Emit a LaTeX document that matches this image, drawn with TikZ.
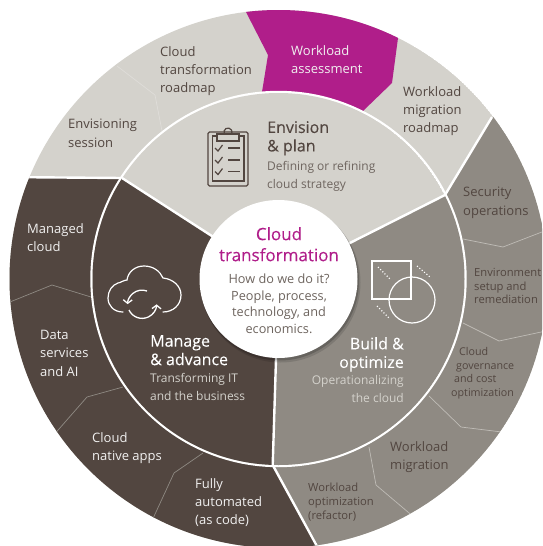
\documentclass[tikz,border=0pt]{standalone}
\usepackage{fontspec}
\setmainfont{Open Sans}
\newfontfamily\medfont[FakeBold=0.12]{Open Sans}
\usetikzlibrary{arrows.meta}
\definecolor{lightc}{HTML}{D4D2CC}
\definecolor{magc}{HTML}{B01E8A}
\definecolor{greyc}{HTML}{8F8A83}
\definecolor{darkc}{HTML}{524640}
\definecolor{bodyc}{HTML}{6E655F}
\tikzset{
 lbl/.style={anchor=north west,inner sep=0pt,align=left,font=\fontsize{13}{18.4}\selectfont},
 onlight/.style={lbl,text=darkc},
 ondark/.style={lbl,text=white!92!darkc},
 small/.style={lbl,text=darkc,font=\fontsize{11.2}{13.7}\selectfont},
 head/.style={lbl,font=\medfont\fontsize{16}{18.5}\selectfont},
 sub/.style={lbl,font=\fontsize{12}{18}\selectfont},
 seam/.style={draw=white,line width=2.4pt},
 thinl/.style={line width=.7pt},
 icon/.style={line width=1.2pt},
 cyc/.style={white,line width=1.3pt,-{Straight Barb[length=3.5pt,width=9pt]}},
}
\begin{document}
\begin{tikzpicture}[x=1pt,y=-1pt]
\useasboundingbox (0,0) rectangle (542,546);
\fill[white] (0,0) rectangle (542,546);
\coordinate (C) at (278.5,279);
\coordinate (A) at (122,178);
\coordinate (B) at (445,195);
\coordinate (D) at (272.7,465);
\begin{scope}
\clip (0,0) rectangle (542,546);
\begin{scope}
\clip (C) circle (269);
\fill[lightc] (C) circle (269);
\fill[greyc] (B) -- (492,117) -- (620,117) -- (620,620) -- (360,620) -- (D) -- cycle;
\fill[darkc] (A) -- (-10,177) -- (-10,620) -- (360,620) -- (D) -- cycle;
\fill[magc] (246,12) -- (240,0) -- (400,0) -- (398,38) -- (392,83) -- (363,111) -- (300,110) -- (262,92) -- (268,55) -- cycle;
\draw[lightc!75!white,thinl] (117,66) -- (155,95) -- (162,131);
\draw[lightc!70!greyc,thinl] (463,239) -- (503,247) -- (560,225);
\draw[lightc!70!greyc,thinl] (463,323) -- (499,341) -- (560,328);
\draw[lightc!70!greyc,thinl] (429,396) -- (461,427) -- (510,433);
\draw[lightc!70!greyc,thinl] (369,447) -- (376,485) -- (415,518);
\draw[greyc,thinl] (5,304) -- (52,285) -- (91,297);
\draw[greyc,thinl] (52,437) -- (87,397) -- (123,387);
\draw[greyc,thinl] (150,525) -- (174,473) -- (203,453);
\draw[seam] (B) -- (492,117);
\draw[seam] (A) -- (0,177);
\draw[seam] (D) -- (330,570);
\end{scope}
% inner disc
\fill[white] (C) circle (188.2);
\begin{scope}
\clip (C) circle (186);
\fill[lightc] (C) circle (186);
\fill[greyc] (C) -- (B) -- (500,100) -- (560,560) -- (D) -- cycle;
\fill[darkc] (C) -- (A) -- (50,100) -- (40,560) -- (D) -- cycle;
\end{scope}
\draw[seam] (A) -- (C);
\draw[seam] (B) -- (C);
\draw[seam] (D) -- (C);
\fill[black,opacity=.12] (280.5,282.5) circle (80);
\fill[black,opacity=.18] (279.5,281) circle (79.5);
\fill[white] (C) circle (79);
\end{scope}
% clipboard
\draw[darkc,icon,rounded corners=1.5pt] (208,132) rectangle (248,186);
\draw[darkc,icon] (212.5,136) rectangle (244,181);
\draw[darkc,icon] (224.5,134) arc[start angle=210,end angle=-30,radius=4pt];
\draw[darkc,icon,fill=lightc] (217,134) rectangle (239,141);
\foreach \y in {148,160,171.5}{
 \draw[darkc,icon] (215,\y) -- (218,\y+3) -- (222.5,\y-3);
 \draw[darkc,icon] (228,\y) -- (240,\y);
}
% square + circle
\draw[white,line width=1.2pt] (372,261) rectangle (411,299);
\draw[white,line width=1.2pt] (412,300) circle (23);
\draw[white,line width=1.1pt,dotted] (378,267) -- (391,280);
\draw[white,line width=1.1pt,dotted] (417,266) -- (430,277);
\draw[white,line width=1.1pt,dotted] (377,306) -- (389,318);
% cloud
\draw[white,icon,line cap=round] (123,312) .. controls (114,312) and (108,306) .. (108,298) .. controls (108,291) and (112,285) .. (118,283) .. controls (120,283) and (124,280) .. (127,280) .. controls (128,272) and (135,266) .. (144,266) .. controls (153,266) and (160,271) .. (163,278) .. controls (173,279) and (181,286) .. (181,295) .. controls (181,305) and (173,312) .. (163,312);
\draw[cyc] (147,291) arc[start angle=70,end angle=178,radius=14.5pt];
\draw[cyc] (129,310) arc[start angle=205,end angle=358,radius=14.5pt];
% texts
\node[onlight] (t1) at (160,46) {Cloud\\transformation\\roadmap};
\node[ondark] (t2) at (291,45) {Workload\\assessment};
\node[onlight] (t3) at (403,86) {Workload\\migration\\roadmap};
\node[onlight] (t4) at (68,119) {Envisioning\\session};
\node[head,text=darkc] (t5) at (267,121) {Envision\\\& plan};
\node[sub,text=bodyc] (t6) at (267,161) {Defining or refining\\cloud strategy};
\node[onlight] (t7) at (463,187) {Security\\operations};
\node[small] (t8) at (474,268) {Environment\\setup and\\remediation};
\node[small,font=\fontsize{10.7}{13.7}\selectfont] (t9) at (451,347) {\hspace*{8pt}Cloud\\\hspace*{5pt}governance\\\hspace*{3pt}and cost\\optimization};
\node[onlight] (t10) at (390,441) {Workload\\migration};
\node[small] (t11) at (308,483) {Workload\\optimization\\(refactor)};
\node[ondark] (t12) at (27,223) {Managed\\cloud};
\node[ondark] (t13) at (40,330) {Data\\services\\and AI};
\node[ondark] (t14) at (92,432) {Cloud\\native apps};
\node[ondark] (t15) at (195,478) {Fully\\automated\\(as code)};
\node[head,text=white] (t16) at (150,335) {Manage\\\& advance};
\node[sub,text=lightc] (t17) at (150,373) {Transforming IT\\and the business};
\node[head,text=white,align=right,anchor=north east] (t18) at (404,337) {Build \&\\optimize};
\node[sub,text=lightc,align=right,anchor=north east] (t19) at (404,375) {Operationalizing\\the cloud};
\node[head,text=magc,align=center,anchor=north,font=\medfont\fontsize{17}{21}\selectfont] (t20) at (279,227) {Cloud\\transformation};
\node[sub,text=bodyc,align=center,anchor=north,font=\fontsize{12.7}{16.7}\selectfont] (t21) at (279,273.5) {How do we do it?\\People, process,\\technology, and\\economics.};
\end{tikzpicture}
\end{document}
